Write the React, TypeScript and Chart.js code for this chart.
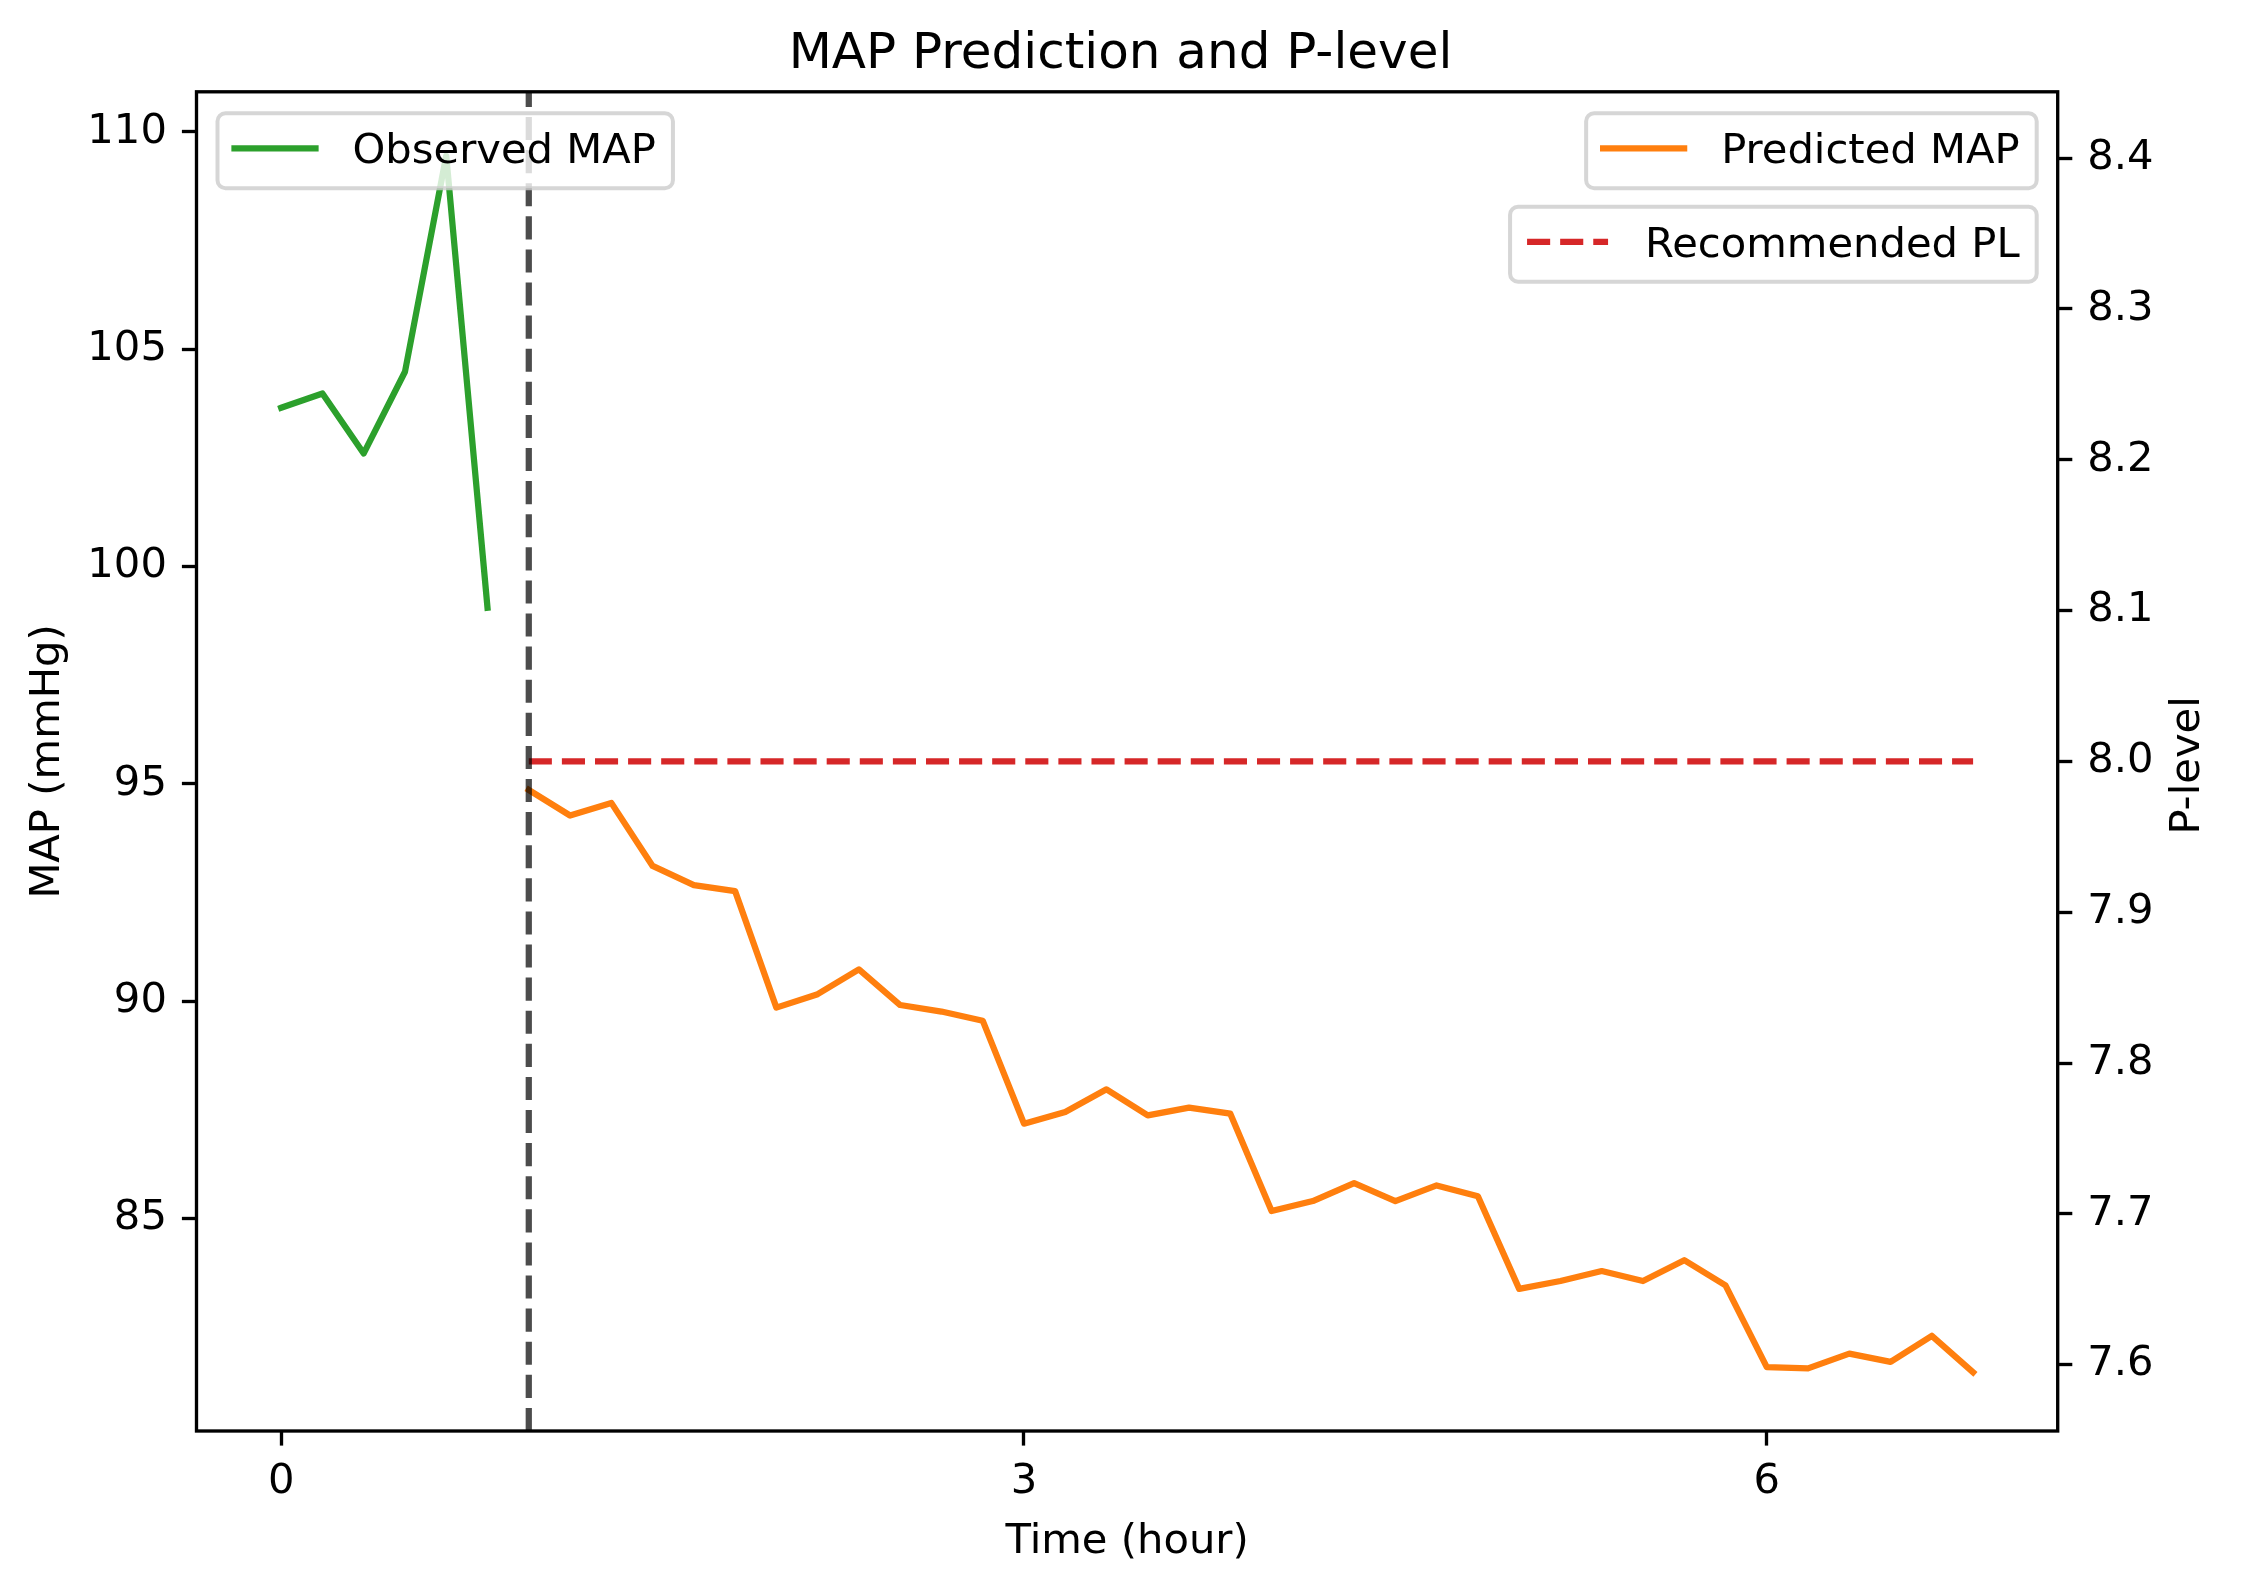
import { useEffect, useRef } from "react";
import { Chart, registerables } from "chart.js";
import type { Plugin } from "chart.js";

Chart.register(...registerables);

const FONT = "'DejaVu Sans', 'Liberation Sans', sans-serif";
const TICK_SIZE = 41.7;

// time stamps in minutes (10 min steps)
const observedMinutes = [0, 10, 20, 30, 40, 50];
const observedMAP = [103.65, 103.98, 102.6, 104.48, 109.45, 99.05];

const predictedMinutes = [
  60, 70, 80, 90, 100, 110, 120, 130, 140, 150, 160, 170,
  180, 190, 200, 210, 220, 230, 240, 250, 260, 270, 280, 290,
  300, 310, 320, 330, 340, 350, 360, 370, 380, 390, 400, 410,
];
const predictedMAP = [
  94.86, 94.27, 94.56, 93.11, 92.67, 92.53, 89.85, 90.16, 90.73, 89.91, 89.76, 89.55,
  87.18, 87.45, 87.97, 87.37, 87.55, 87.41, 85.17, 85.4, 85.81, 85.4, 85.76, 85.51,
  83.38, 83.56, 83.79, 83.56, 84.04, 83.46, 81.58, 81.55, 81.89, 81.7, 82.3, 81.46,
];

const recommendedPL = 8.0;
const interventionHour = 1;

const xTicks = [0, 3, 6];
const mapTicks = [85, 90, 95, 100, 105, 110];
const plTicks = [7.6, 7.7, 7.8, 7.9, 8.0, 8.1, 8.2, 8.3, 8.4];

const GREEN = "#2ca02c";
const ORANGE = "#ff7f0e";
const RED = "#d62728";
const LW = 6.25;
const DASH = [23.1, 10];

function drawLegend(
  ctx: CanvasRenderingContext2D,
  x: number,
  y: number,
  label: string,
  color: string,
  dashed: boolean,
  alignRight: boolean
) {
  ctx.save();
  ctx.font = `${TICK_SIZE}px ${FONT}`;
  const w = ctx.measureText(label).width + 152;
  const h = 75;
  const left = alignRight ? x - w : x;
  ctx.beginPath();
  ctx.roundRect(left, y, w, h, 8);
  ctx.fillStyle = "rgba(255,255,255,0.8)";
  ctx.fill();
  ctx.lineWidth = 4;
  ctx.strokeStyle = "rgba(204,204,204,0.8)";
  ctx.stroke();

  ctx.beginPath();
  ctx.strokeStyle = color;
  ctx.lineWidth = LW;
  ctx.lineCap = dashed ? "butt" : "square";
  ctx.setLineDash(dashed ? DASH : []);
  ctx.moveTo(left + 17, y + 35);
  ctx.lineTo(left + 98, y + 35);
  ctx.stroke();
  ctx.setLineDash([]);

  ctx.fillStyle = "#000";
  ctx.textAlign = "left";
  ctx.textBaseline = "middle";
  ctx.fillText(label, left + 135, y + 39);
  ctx.restore();
}

const overlayPlugin: Plugin<"line"> = {
  id: "overlay",
  afterDatasetsDraw(chart) {
    const { ctx, chartArea: a, scales } = chart;
    const x = scales.x.getPixelForValue(interventionHour);
    ctx.save();
    // intervention marker
    ctx.strokeStyle = "rgba(0,0,0,0.7)";
    ctx.lineWidth = LW;
    ctx.setLineDash(DASH);
    ctx.beginPath();
    ctx.moveTo(x, a.bottom);
    ctx.lineTo(x, a.top);
    ctx.stroke();
    ctx.setLineDash([]);

    // axes frame
    ctx.strokeStyle = "#000";
    ctx.lineWidth = 3.33;
    ctx.strokeRect(a.left, a.top, a.right - a.left, a.bottom - a.top);

    // right axis title, reads bottom to top
    ctx.translate(a.right + 130, (a.top + a.bottom) / 2 + 4);
    ctx.rotate(-Math.PI / 2);
    ctx.font = `${TICK_SIZE}px ${FONT}`;
    ctx.fillStyle = "#000";
    ctx.textAlign = "center";
    ctx.textBaseline = "middle";
    ctx.fillText("P-level", 0, 0);
    ctx.restore();
  },
  afterDraw(chart) {
    const { ctx, chartArea: a } = chart;
    drawLegend(ctx, a.left + 21, a.top + 21.5, "Observed MAP", GREEN, false, false);
    drawLegend(ctx, a.right - 21, a.top + 21.5, "Predicted MAP", ORANGE, false, true);
    drawLegend(ctx, a.right - 21, a.top + 115, "Recommended PL", RED, true, true);
  },
};

const tickFont = { family: FONT, size: TICK_SIZE, weight: "normal" as const };
const gridOpts = {
  display: true,
  drawOnChartArea: false,
  drawTicks: true,
  tickLength: 14.6,
  tickWidth: 3.33,
  tickColor: "#000",
};

export default function App() {
  const chartRef = useRef<HTMLCanvasElement>(null);
  const chartInstance = useRef<Chart | null>(null);

  useEffect(() => {
    document.body.style.margin = "0";
    if (!chartRef.current) return;
    if (chartInstance.current) chartInstance.current.destroy();
    const ctx = chartRef.current.getContext("2d");
    if (!ctx) return;

    chartInstance.current = new Chart(ctx, {
      type: "line",
      data: {
        datasets: [
          {
            label: "Observed MAP",
            data: observedMinutes.map((m, i) => ({ x: m / 60, y: observedMAP[i] })),
            borderColor: GREEN,
            borderWidth: LW,
            borderJoinStyle: "round",
            borderCapStyle: "square",
            pointRadius: 0,
            tension: 0,
            yAxisID: "y",
          },
          {
            label: "Predicted MAP",
            data: predictedMinutes.map((m, i) => ({ x: m / 60, y: predictedMAP[i] })),
            borderColor: ORANGE,
            borderWidth: LW,
            borderJoinStyle: "round",
            borderCapStyle: "square",
            pointRadius: 0,
            tension: 0,
            yAxisID: "y",
          },
          {
            label: "Recommended PL",
            data: predictedMinutes.map((m) => ({ x: m / 60, y: recommendedPL })),
            borderColor: RED,
            borderWidth: LW,
            borderDash: DASH,
            pointRadius: 0,
            tension: 0,
            yAxisID: "y1",
          },
        ],
      },
      options: {
        animation: false,
        responsive: true,
        maintainAspectRatio: false,
        devicePixelRatio: 1,
        events: [],
        layout: { padding: 0 },
        plugins: {
          legend: { display: false },
          tooltip: { enabled: false },
          title: {
            display: true,
            text: "MAP Prediction and P-level",
            color: "#000",
            font: { family: FONT, size: 50, weight: "normal" },
            padding: { top: 25, bottom: 6.8 },
          },
        },
        scales: {
          x: {
            type: "linear",
            min: -0.342,
            max: 7.175,
            afterBuildTicks: (axis) => {
              axis.ticks = xTicks.map((v) => ({ value: v }));
            },
            afterFit: (s) => {
              s.height = 161;
            },
            ticks: {
              color: "#000",
              font: tickFont,
              padding: 12,
              maxRotation: 0,
              callback: (v) => String(v),
            },
            grid: gridOpts,
            border: { display: false },
            title: {
              display: true,
              text: "Time (hour)",
              color: "#000",
              font: tickFont,
              padding: { top: 0, bottom: 25 },
            },
          },
          y: {
            type: "linear",
            position: "left",
            min: 80.11,
            max: 110.92,
            afterBuildTicks: (axis) => {
              axis.ticks = mapTicks.map((v) => ({ value: v }));
            },
            afterFit: (s) => {
              s.width = 196.5;
            },
            ticks: {
              color: "#000",
              font: tickFont,
              padding: 15,
              callback: (v) => String(v),
            },
            grid: gridOpts,
            border: { display: false },
            title: {
              display: true,
              text: "MAP (mmHg)",
              color: "#000",
              font: tickFont,
              padding: { top: 23.5, bottom: 0 },
            },
          },
          y1: {
            type: "linear",
            position: "right",
            min: 7.556,
            max: 8.444,
            afterBuildTicks: (axis) => {
              axis.ticks = plTicks.map((v) => ({ value: v }));
            },
            afterFit: (s) => {
              s.width = 183.3;
            },
            ticks: {
              color: "#000",
              font: tickFont,
              padding: 15,
              callback: (v) => Number(v).toFixed(1),
            },
            grid: gridOpts,
            border: { display: false },
          },
        },
      },
      plugins: [overlayPlugin],
    });

    return () => {
      if (chartInstance.current) {
        chartInstance.current.destroy();
        chartInstance.current = null;
      }
    };
  }, []);

  return (
    <div style={{ position: "relative", width: 2241, height: 1592, background: "#fff" }}>
      <canvas ref={chartRef} />
    </div>
  );
}
